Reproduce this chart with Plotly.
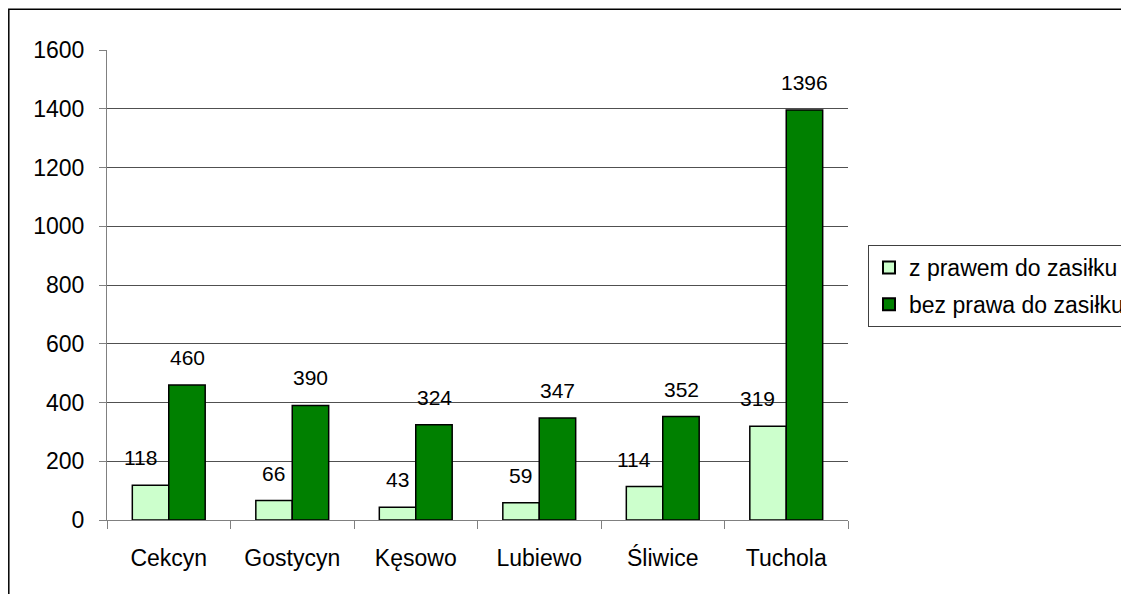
import plotly.graph_objects as go

categories = ["Cekcyn", "Gostycyn", "Kęsowo", "Lubiewo", "Śliwice", "Tuchola"]
z_prawem = [118, 66, 43, 59, 114, 319]
bez_prawa = [460, 390, 324, 347, 352, 1396]
series_names = ["z prawem do zasiłku", "bez prawa do zasiłku"]
y_ticks = [0, 200, 400, 600, 800, 1000, 1200, 1400, 1600]

FONT = "Liberation Sans, Arial, sans-serif"
light = "#CCFFCC"
dark = "#008000"

fig = go.Figure()
fig.add_trace(go.Bar(x=categories, y=z_prawem, name=series_names[0], legendgroup="a",
                     marker=dict(color=light, line=dict(color="black", width=1.5))))
fig.add_trace(go.Bar(x=categories, y=bez_prawa, name=series_names[1], legendgroup="b",
                     marker=dict(color=dark, line=dict(color="black", width=1.5))))

# data labels (Excel-style, placed above the bars)
for cat, v in zip(categories, z_prawem):
    shift = -18.5 - (10 if len(str(v)) >= 3 else 0)
    fig.add_annotation(x=cat, y=v, text=str(v), showarrow=False, xshift=shift, yshift=14,
                       yanchor="bottom", font=dict(family=FONT, size=21, color="black"))
for cat, v in zip(categories, bez_prawa):
    fig.add_annotation(x=cat, y=v, text=str(v), showarrow=False, xshift=18.5, yshift=14,
                       yanchor="bottom", font=dict(family=FONT, size=21, color="black"))

# page is drawn with an 8px body offset
W, H = 1121, 586
L, R, T, B = 99, 281, 42, 74
pw, ph = W - L - R, H - T - B

def px_x(p):
    return (p - L) / pw

def px_y(p):
    return (H - B - p) / ph

# outer chart border
fig.add_shape(type="rect", xref="paper", yref="paper",
              x0=px_x(0.8), x1=px_x(1140), y0=px_y(605), y1=px_y(1.2),
              line=dict(color="black", width=1.5), fillcolor="rgba(0,0,0,0)", layer="below")

fig.update_layout(
    width=W, height=H,
    margin=dict(l=L, r=R, t=T, b=B, autoexpand=False),
    paper_bgcolor="white", plot_bgcolor="white",
    barmode="group", bargap=0.41, bargroupgap=0,
    font=dict(family=FONT, size=23, color="black"),
    showlegend=True,
    legend=dict(x=px_x(860), y=px_y(237), xanchor="left", yanchor="top",
                bordercolor="#404040", borderwidth=1, bgcolor="white",
                font=dict(family=FONT, size=23, color="black"),
                tracegroupgap=4, itemsizing="constant"),
    xaxis=dict(showline=True, linecolor="#808080", linewidth=1,
               ticks="outside", ticklen=8, tickcolor="#808080", tickson="boundaries",
               ticklabelstandoff=17, showgrid=False,
               tickfont=dict(family=FONT, size=23, color="black")),
    yaxis=dict(range=[0, 1600], tickvals=y_ticks, showline=True, linecolor="#808080", linewidth=1,
               ticks="outside", ticklen=7, tickcolor="#808080", ticklabelstandoff=10,
               showgrid=True, gridcolor="#505050", gridwidth=1, zeroline=False,
               tickfont=dict(family=FONT, size=23, color="black")),
)

fig.write_html("out.html")
